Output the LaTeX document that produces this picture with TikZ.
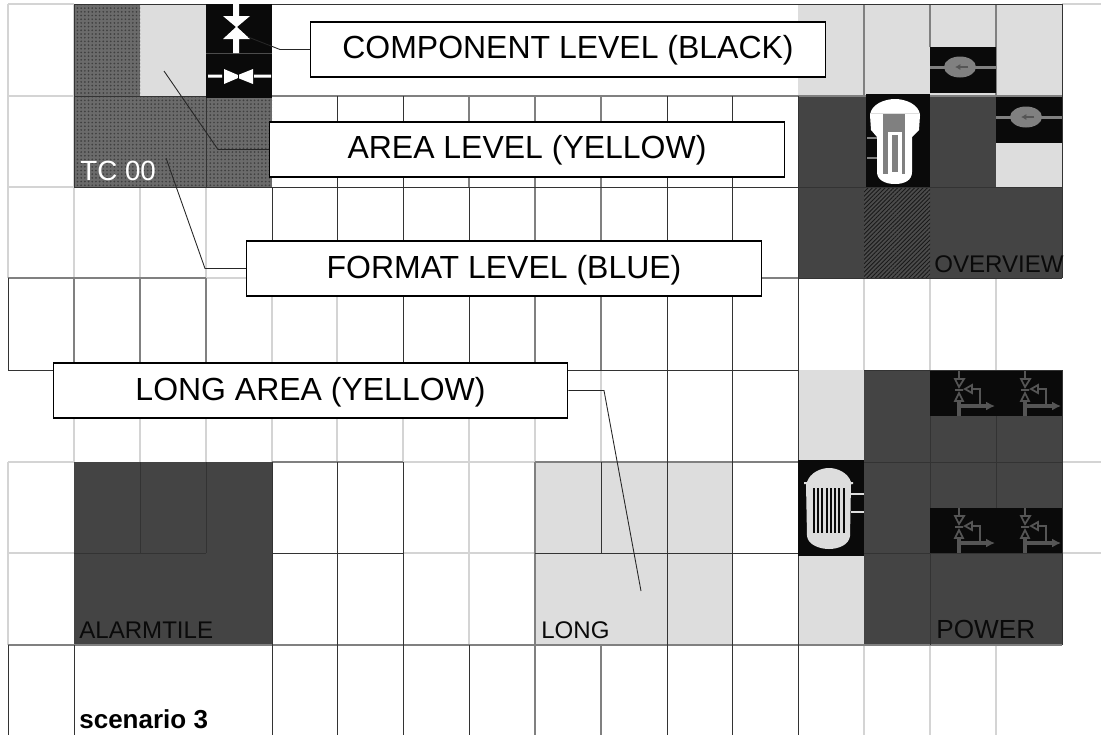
\documentclass[tikz,border=0pt]{standalone}
\usepackage{fontspec}
\setmainfont{Liberation Sans}
\usetikzlibrary{arrows.meta,patterns.meta}
\definecolor{tiledark}{HTML}{444444}
\definecolor{tilelight}{HTML}{DDDDDD}
\definecolor{tileblack}{HTML}{0A0A0A}
\definecolor{symbolgray}{HTML}{808080}
\definecolor{symboldim}{HTML}{555555}
\tikzset{
  griddark/.style={draw=black!80,line width=0.5pt},
  gridmid/.style={draw=black!50,line width=0.7pt},
  gridlight/.style={draw=black!17,line width=0.7pt},
  innerline/.style={draw=black!80,line width=0.5pt},
  formatfill/.style={fill=black!58,postaction={pattern={Dots[distance=2.1pt,radius=0.55pt]},pattern color=black!75}},
  hatchfill/.style={fill=black!70,postaction={pattern={Lines[angle=45,distance=1.7pt,line width=0.5pt]},pattern color=black!90}},
  levelbox/.style={draw=black,fill=white,line width=0.6pt,inner sep=0pt,minimum width=10.3cm,minimum height=1.1cm,
    text height=13.3pt,text depth=2.5pt,font=\fontsize{18.2}{20}\selectfont},
  leader/.style={draw=black!85,line width=0.5pt},
  tilelabel/.style={anchor=base west,inner sep=0pt,font=\fontsize{13.7}{15}\selectfont},
  valvetile/.pic={
    \fill[tileblack] (0,0) rectangle (66,45);
    \draw[symboldim,line width=1pt] (29,0) -- (29,8) (25,8) -- (34,8) -- (29,16) -- cycle
      (25,19) -- (33,19) (29,22) -- (25,30) -- (33,30) -- cycle
      (35,18) -- (42,14) -- (42,22) -- cycle (42,18) -- (50,18) -- (50,35);
    \draw[symboldim,line width=1.8pt] (29,30) -- (29,45);
    \draw[symboldim,line width=1.8pt,-{Latex[length=5pt,width=5pt]}] (29,35) -- (65,35);
  },
  pumptile/.pic={
    \fill[tileblack] (0,-20) rectangle (66,26);
    \draw[symbolgray,line width=1.7pt] (0,0) -- (66,0);
    \fill[symbolgray] (30,0) ellipse [x radius=16,y radius=10.5];
    \draw[symboldim,line width=1pt,-{Latex[length=3pt,width=3.5pt]}] (38,0) -- (25,0);
  },
}
\begin{document}
\begin{tikzpicture}[x=0.02cm,y=-0.02cm,>=Latex]
  \useasboundingbox (0,0) rectangle (1101,735);
  % tile fills
  \foreach \xa/\ya/\xb/\yb in {74/462/272/645,798/96/866/278,930/96/996/187,930/187/1062/278,864/370/1062/645}{
    \fill[tiledark] (\xa,\ya) rectangle (\xb,\yb);
  }
  \foreach \xa/\ya/\xb/\yb in {140/4/206/96,798/4/996/96,996/4/1062/96,996/143/1062/187,535/462/732/645,798/370/864/645}{
    \fill[tilelight] (\xa,\ya) rectangle (\xb,\yb);
  }
  \fill[formatfill] (74,4) rectangle (140,96);
  \fill[formatfill] (74,96) rectangle (272,187);
  \fill[hatchfill] (864,187) rectangle (930,278);
  % grid
  \foreach \x/\a/\b in {8/4/278,74/4/278,140/187/278,206/187/278,8/462/645,74/370/462,140/370/462,206/370/462,
      272/278/462,337/278/462,403/370/462,469/370/645,535/370/462,601/370/462,
      864/278/370,930/278/370,996/278/370,864/645/735,930/645/735,996/645/735}{
    \draw[gridlight] (\x,\a) -- (\x,\b);
  }
  \foreach \y/\a/\b in {4/8/74,96/8/74,187/8/74,278/206/798,462/8/74,553/8/74,462/403/535,553/403/535,
      4/1062/1101,462/1062/1101,553/1062/1101}{
    \draw[gridlight] (\a,\y) -- (\b,\y);
  }
  \foreach \x/\a/\b in {74/278/370,140/278/370,206/278/370,469/96/187,535/96/370,601/96/370,535/462/735,601/645/735,
      864/4/96,930/4/47,996/4/96}{
    \draw[gridmid] (\x,\a) -- (\x,\b);
  }
  \foreach \y/\a/\b in {96/272/1062,278/8/206,278/762/798,462/272/403,462/535/864,645/8/1062}{
    \draw[gridmid] (\a,\y) -- (\b,\y);
  }
  \foreach \x/\a/\b in {8/278/370,8/645/735,74/645/735,272/187/278,272/645/735,272/462/645,337/96/278,337/462/735,
      403/96/370,403/462/735,469/187/370,469/645/735,601/462/553,667/96/735,732/96/735,798/96/735,
      74/4/187,1062/4/278,1062/370/645}{
    \draw[griddark] (\x,\a) -- (\x,\b);
  }
  \foreach \y/\a/\b in {4/74/1062,187/74/1062,278/798/1062,370/8/798,370/864/1062,553/272/403,553/535/798}{
    \draw[griddark] (\a,\y) -- (\b,\y);
  }
  % lines inside the filled tiles
  \foreach \x/\a/\b in {140/462/553,206/462/553,206/96/187,930/370/645,996/370/553}{
    \draw[innerline] (\x,\a) -- (\x,\b);
  }
  \foreach \y/\a/\b in {553/74/206,96/74/206,462/864/1062,553/864/1062}{
    \draw[innerline] (\a,\y) -- (\b,\y);
  }
  % valves, top left
  \fill[tileblack] (206,4) rectangle (272,98);
  \draw[black!70,line width=0.4pt] (206,53) -- (272,53);
  \fill[white] (233,4) rectangle (239,16) (223,16) -- (250,16) -- (237,27) -- (250,39) -- (223,39) -- (236,27) -- cycle
    (233,39) rectangle (239,53);
  \fill[white] (208,74.5) rectangle (222,77.5) (254,74.5) rectangle (271,77.5)
    (224,69) -- (238,75) -- (253,69) -- (253,84) -- (238,78) -- (224,84) -- cycle;
  \draw[tileblack,line width=0.4pt] (238,71) -- (238,81);
  % reactor
  \fill[tileblack] (866,94) rectangle (930,187);
  \fill[white] (877,137) -- (871,130) -- (870,115) .. controls (871,104) and (885,99) .. (895,99)
    .. controls (905,99) and (919,104) .. (920,115) -- (919,130) -- (912,137) -- (912,172)
    .. controls (912,180) and (905,184) .. (895,184) .. controls (885,184) and (877,180) .. (877,172) -- cycle;
  \draw[tilelight,line width=0.5pt] (870,113) -- (920,113);
  \fill[symbolgray] (883,114) rectangle (905,174);
  \fill[white] (888,132) rectangle (902,175);
  \fill[symbolgray] (892,135) rectangle (898,172);
  \draw[symbolgray,line width=1pt] (867,138) -- (877,138) (867,158) -- (877,158);
  % motor
  \fill[tileblack] (798,460) rectangle (864,556);
  \fill[tilelight] (804,484) -- (804,482) -- (807,482) .. controls (810,473) and (820,468) .. (829,468)
    .. controls (838,468) and (848,473) .. (851,482) -- (853,482) -- (853,484) -- (851,484) -- (850,536)
    .. controls (849,545) and (838,549) .. (829,549) .. controls (820,549) and (808,545) .. (807,536) -- (806,484) -- cycle;
  \foreach \x in {814,818,822,827,831,835,839,844}{
    \draw[tileblack,line width=0.6pt] (\x,488) -- (\x,533);
  }
  \draw[tilelight,line width=0.7pt] (851,494) -- (864,494) (851,512) -- (864,512);
  % pumps and small valves
  \pic at (930,67) {pumptile};
  \pic at (996,117) {pumptile};
  \pic at (930,371) {valvetile};
  \pic at (996,371) {valvetile};
  \pic at (930,508) {valvetile};
  \pic at (996,508) {valvetile};
  % tile names
  \node[tilelabel,text=white,font=\fontsize{15.8}{17}\selectfont] (tcname) at (80,180) {TC 00};
  \node[tilelabel,text=tileblack] (overviewname) at (934,272) {OVERVIEW};
  \node[tilelabel,text=tileblack] (alarmname) at (79,638) {ALARMTILE};
  \node[tilelabel,text=tileblack] (longname) at (541,638) {LONG};
  \node[tilelabel,text=tileblack,font=\fontsize{14.9}{16}\selectfont] (powername) at (936,638) {POWER};
  \node[tilelabel,font=\fontsize{14.8}{16}\selectfont\bfseries] (scenarioname) at (79,728) {scenario 3};
  % level boxes
  \node[levelbox] (componentbox) at (568,49.5) {COMPONENT LEVEL (BLACK)};
  \node[levelbox] (areabox) at (527,149.5) {AREA LEVEL (YELLOW)};
  \node[levelbox] (formatbox) at (504,268.5) {FORMAT LEVEL (BLUE)};
  \node[levelbox] (longbox) at (310.5,390.5) {LONG AREA (YELLOW)};
  \coordinate (componentend) at (248,37);
  \coordinate (areaend) at (164,71);
  \coordinate (formatend) at (166,158);
  \coordinate (longend) at (641,591);
  \draw[leader] (componentbox.west) -- (280,49.5) -- (componentend);
  \draw[leader] (areabox.west) -- (218,149.5) -- (areaend);
  \draw[leader] (formatbox.west) -- (205,268.5) -- (formatend);
  \draw[leader] (longbox.east) -- (604,390.5) -- (longend);
\end{tikzpicture}
\end{document}
